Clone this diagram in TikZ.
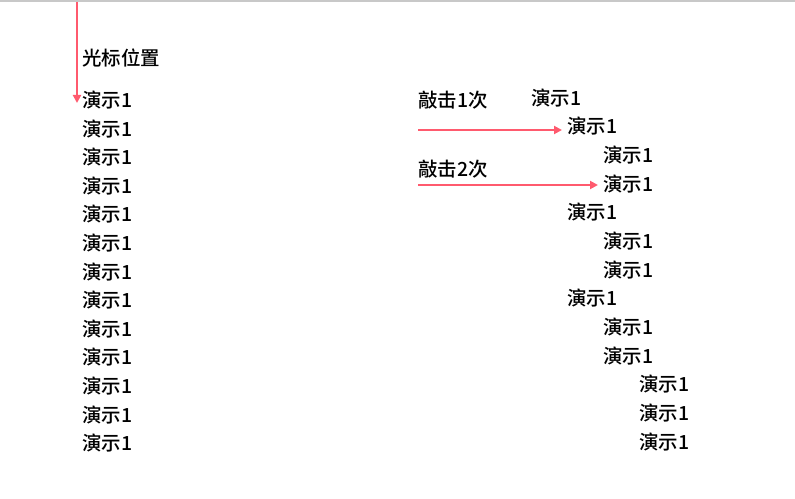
\documentclass[tikz,border=0pt]{standalone}
\usepackage{fontspec}
\setmainfont{Noto Sans CJK SC Medium}
\usetikzlibrary{arrows.meta}
\definecolor{arr}{HTML}{FF5A6E}
\definecolor{topline}{HTML}{C8C8C8}
\tikzset{
  item/.style={anchor=west,inner sep=0pt,font=\fontsize{14.6pt}{17pt}\selectfont},
  lab/.style={anchor=west,inner sep=0pt,font=\fontsize{14.6pt}{17pt}\selectfont},
  parrow/.style={draw=arr,line width=1.9pt,-{Triangle[length=6pt,width=6pt]}}
}
\begin{document}
\begin{tikzpicture}[x=0.75pt,y=-0.75pt]
\useasboundingbox (0,0) rectangle (795,499);
\draw[topline,line width=1.2pt] (0,0.8) -- (795,0.8);
% left column
\node[lab] (cur) at (82,58) {光标位置};
\foreach \i in {0,...,12}{
  \node[item] (L\i) at (82,{100+28.6*\i}) {演示1};
}
\coordinate (vtop) at (77,2);
\coordinate (vend) at (77,103);
\draw[parrow] (vtop) -- (vend);
% right column
\node[lab] (k1) at (418,100) {敲击1次};
\node[lab] (k2) at (418,169) {敲击2次};
\node[item] (R1) at (531,98) {演示1};
\node[item] (R2) at (567,126.5) {演示1};
\node[item] (R3) at (603,155) {演示1};
\node[item] (R4) at (603,184) {演示1};
\node[item] (R5) at (567,212.5) {演示1};
\node[item] (R6) at (603,241) {演示1};
\node[item] (R7) at (603,270) {演示1};
\node[item] (R8) at (567,298.5) {演示1};
\node[item] (R9) at (603,327) {演示1};
\node[item] (R10) at (603,356) {演示1};
\node[item] (R11) at (639,384.5) {演示1};
\node[item] (R12) at (639,413) {演示1};
\node[item] (R13) at (639,442) {演示1};
\coordinate (a1s) at (418,130);
\coordinate (a1e) at (562,130);
\coordinate (a2s) at (418,185);
\coordinate (a2e) at (598,185);
\draw[parrow] (a1s) -- (a1e);
\draw[parrow] (a2s) -- (a2e);
\end{tikzpicture}
\end{document}
